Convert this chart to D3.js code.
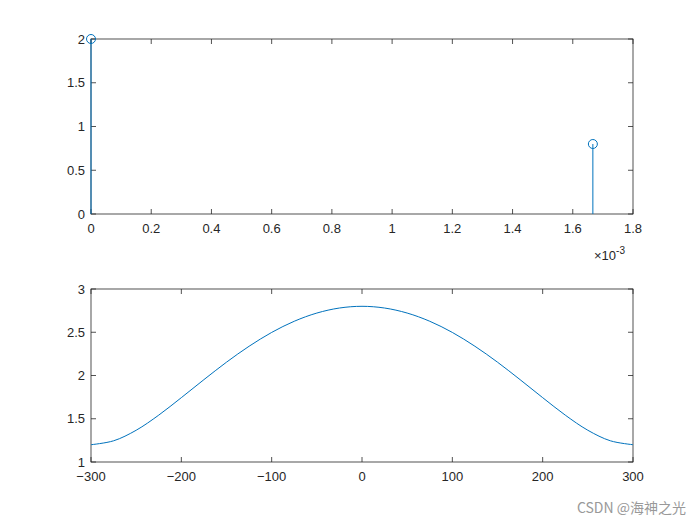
<!DOCTYPE html>
<html><head><meta charset="utf-8">
<script src="https://cdn.jsdelivr.net/npm/d3@7"></script>
<style>body{margin:0;background:#fff}svg{font-family:"Liberation Sans",Arial,sans-serif}</style>
</head><body>
<script>
// Top: stem data (time in units of 1e-3 s)
const stemT = [0, 1.6667];
const stemV = [2, 0.8];
const topXTicks = [0,0.2,0.4,0.6,0.8,1,1.2,1.4,1.6,1.8];
const topYTicks = [0,0.5,1,1.5,2];
// Bottom: magnitude response
const freq = [-300,-275,-250,-225,-200,-175,-150,-125,-100,-75,-50,-25,0,25,50,75,100,125,150,175,200,225,250,275,300];
const mag  = [1.2,1.245,1.367,1.542,1.744,1.952,2.154,2.338,2.498,2.627,2.722,2.780,2.8,2.780,2.722,2.627,2.498,2.338,2.154,1.952,1.744,1.542,1.367,1.245,1.2];
const botXTicks = [-300,-200,-100,0,100,200,300];
const botYTicks = [1,1.5,2,2.5,3];

const C = "#0072BD";
const svg = d3.select("body").append("svg").attr("width",700).attr("height",525);
svg.append("rect").attr("width",700).attr("height",525).attr("fill","#fff");

function axesBox(x0,x1,y0,y1,xs,ys,xt,yt,fmtX){
  const g = svg.append("g");
  g.append("rect").attr("x",x0).attr("y",y0).attr("width",x1-x0).attr("height",y1-y0).attr("fill","#fff").attr("stroke","#262626").attr("stroke-width",0.8);
  xt.forEach(t=>{const x=xs(t);
    g.append("line").attr("x1",x).attr("x2",x).attr("y1",y1).attr("y2",y1-5).attr("stroke","#262626").attr("stroke-width",0.8);
    g.append("line").attr("x1",x).attr("x2",x).attr("y1",y0).attr("y2",y0+5).attr("stroke","#262626").attr("stroke-width",0.8);
    g.append("text").attr("x",x).attr("y",y1+19).attr("text-anchor","middle").attr("font-size",13).attr("fill","#262626").text(fmtX(t));});
  yt.forEach(t=>{const y=ys(t);
    g.append("line").attr("x1",x0).attr("x2",x0+5).attr("y1",y).attr("y2",y).attr("stroke","#262626").attr("stroke-width",0.8);
    g.append("line").attr("x1",x1).attr("x2",x1-5).attr("y1",y).attr("y2",y).attr("stroke","#262626").attr("stroke-width",0.8);
    g.append("text").attr("x",x0-6).attr("y",y+4.5).attr("text-anchor","end").attr("font-size",13).attr("fill","#262626").text(d3.format("~g")(t));});
  return g;
}

// Top plot
const xs1 = d3.scaleLinear().domain([0,1.8]).range([91,633]);
const ys1 = d3.scaleLinear().domain([0,2]).range([214,39]);
axesBox(91,633,39,214,xs1,ys1,topXTicks,topYTicks,d3.format("~g"));
stemT.forEach((t,i)=>{
  svg.append("line").attr("x1",xs1(t)).attr("x2",xs1(t)).attr("y1",ys1(0)).attr("y2",ys1(stemV[i])).attr("stroke",C).attr("stroke-width",1);
  svg.append("circle").attr("cx",xs1(t)).attr("cy",ys1(stemV[i])).attr("r",4.5).attr("fill","none").attr("stroke",C).attr("stroke-width",1);
});
const ex = svg.append("text").attr("x",594).attr("y",260).attr("font-size",13).attr("fill","#262626");
ex.append("tspan").text("×10");
ex.append("tspan").attr("dy",-6).attr("font-size",10).text("-3");

// Bottom plot
const xs2 = d3.scaleLinear().domain([-300,300]).range([91,633]);
const ys2 = d3.scaleLinear().domain([1,3]).range([462,289]);
axesBox(91,633,289,462,xs2,ys2,botXTicks,botYTicks,d3.format("~g"));
svg.append("path").datum(freq.map((f,i)=>[f,mag[i]]))
  .attr("d",d3.line().x(d=>xs2(d[0])).y(d=>ys2(d[1])).curve(d3.curveCatmullRom))
  .attr("fill","none").attr("stroke",C).attr("stroke-width",1);

svg.append("text").attr("x",686).attr("y",513).attr("text-anchor","end").attr("font-size",14).attr("fill","#999")
  .attr("font-family","'Noto Sans CJK SC',sans-serif").text("CSDN @海神之光");
</script>
</body></html>
